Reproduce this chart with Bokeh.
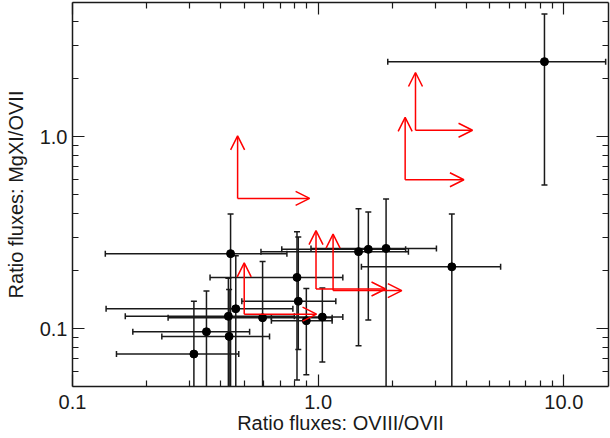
import math
from bokeh.plotting import figure
from bokeh.models import (Range1d, LogAxis, FixedTicker, CustomJSTickFormatter,
                          Arrow, OpenHead, ColumnDataSource)
from bokeh.embed import file_html
from bokeh.resources import INLINE

# ---- data: measured ratios with error ranges ----
ratio_o8_o7 = [0.44, 0.462, 0.431, 0.351, 0.434, 0.312, 0.82, 0.83, 0.594, 0.895,
               1.04, 1.46, 1.60, 1.89, 3.50, 8.34]
ratio_mg11_o7 = [0.246, 0.127, 0.116, 0.0964, 0.0912, 0.0738, 0.185, 0.139, 0.114, 0.110,
                 0.115, 0.252, 0.259, 0.262, 0.21, 2.46]
o8_low = [0.136, 0.137, 0.164, 0.176, 0.231, 0.151, 0.363, 0.489, 0.245, 0.645,
          0.645, 0.585, 0.711, 0.935, 1.50, 1.92]
o8_high = [0.746, 0.789, 0.80, 0.526, 0.634, 0.475, 1.26, 1.18, 1.14, 1.14,
           1.26, 2.33, 2.27, 3.03, 5.53, 14.8]
mg_low = [0.03, 0.03, 0.03, 0.03, 0.03, 0.03, 0.054, 0.078, 0.03, 0.0575,
          0.067, 0.0815, 0.111, 0.03, 0.03, 0.56]
mg_high = [0.396, 0.24, 0.183, 0.157, 0.160, 0.139, 0.32, 0.30, 0.224, 0.162,
           0.163, 0.422, 0.405, 0.474, 0.396, 4.36]

# lower limits (both ratios): corner values and arrow end values
limit_o8 = [0.47, 2.49, 2.26, 0.98, 1.15, 0.50]
limit_mg = [0.477, 1.08, 0.597, 0.161, 0.158, 0.119]
limit_o8_end = [0.923, 4.25, 3.92, 1.88, 2.19, 0.985]
limit_mg_end = [1.01, 2.16, 1.26, 0.324, 0.311, 0.22]

x_major = [0.1, 1.0, 10.0]
x_minor = [0.2, 0.3, 0.4, 0.5, 0.6, 0.7, 0.8, 0.9, 2, 3, 4, 5, 6, 7, 8, 9]
y_major = [0.1, 1.0]
y_minor = [0.06, 0.07, 0.08, 0.09, 0.2, 0.3, 0.4, 0.5, 0.6, 0.7, 0.8, 0.9, 2, 3, 4]

# ---- style constants ----
FONT = "Liberation Sans"
INK = "#1a1a1a"

p = figure(width=610, height=438, x_axis_type="log", y_axis_type="log",
           x_range=Range1d(0.1, 15.2), y_range=Range1d(0.05, 5.0),
           output_backend="svg", toolbar_location=None,
           min_border_left=72, min_border_right=2, min_border_top=2,
           min_border_bottom=52)
p.grid.visible = False
p.outline_line_color = None
p.background_fill_color = "white"

fmt = CustomJSTickFormatter(code="return tick.toFixed(1);")

def style_axis(ax, show_labels):
    ax.major_tick_in = 12
    ax.major_tick_out = 0
    ax.minor_tick_in = 6
    ax.minor_tick_out = 0
    ax.axis_line_width = 1.5
    ax.axis_line_color = INK
    ax.major_tick_line_color = INK
    ax.minor_tick_line_color = INK
    ax.major_tick_line_width = 1.2
    ax.minor_tick_line_width = 1.2
    if show_labels:
        ax.formatter = fmt
        ax.major_label_text_font = FONT
        ax.major_label_text_font_size = "20px"
        ax.major_label_text_color = INK
        ax.axis_label_text_font = FONT
        ax.axis_label_text_font_size = "20px"
        ax.axis_label_text_font_style = "normal"
        ax.axis_label_text_color = INK
    else:
        ax.major_label_text_font_size = "2px"
        ax.major_label_text_alpha = 0
        ax.major_label_standoff = 0

xax = p.xaxis[0]
yax = p.yaxis[0]
xax.ticker = FixedTicker(ticks=x_major, minor_ticks=x_minor)
yax.ticker = FixedTicker(ticks=y_major, minor_ticks=y_minor)
xax.axis_label = "Ratio fluxes: OVIII/OVII"
yax.axis_label = "Ratio fluxes: MgXI/OVII"
style_axis(xax, True)
style_axis(yax, True)
xax.major_label_standoff = 8
xax.axis_label_standoff = 0
yax.major_label_standoff = 5
yax.axis_label_standoff = 10

top = LogAxis(ticker=FixedTicker(ticks=x_major, minor_ticks=x_minor))
right = LogAxis(ticker=FixedTicker(ticks=y_major, minor_ticks=y_minor))
style_axis(top, False)
style_axis(right, False)
p.add_layout(top, "above")
p.add_layout(right, "right")

# ---- error bars ----
src = ColumnDataSource(dict(x=ratio_o8_o7, y=ratio_mg11_o7, xl=o8_low, xh=o8_high,
                            yl=mg_low, yh=mg_high))
p.segment(x0="xl", x1="xh", y0="y", y1="y", source=src, line_color=INK, line_width=1.5)
p.segment(x0="x", x1="x", y0="yl", y1="yh", source=src, line_color=INK, line_width=1.5)
p.scatter(x="xl", y="y", source=src, marker="dash", angle=math.pi / 2, size=6,
          line_color=INK, line_width=1.5)
p.scatter(x="xh", y="y", source=src, marker="dash", angle=math.pi / 2, size=6,
          line_color=INK, line_width=1.5)
p.scatter(x="x", y="yl", source=src, marker="dash", size=6, line_color=INK, line_width=1.5)
p.scatter(x="x", y="yh", source=src, marker="dash", size=6, line_color=INK, line_width=1.5)
p.scatter(x="x", y="y", source=src, size=8, fill_color="black", line_color="black")

# ---- lower-limit arrows ----
up_src = ColumnDataSource(dict(x0=limit_o8, y0=limit_mg, x1=limit_o8, y1=limit_mg_end))
rt_src = ColumnDataSource(dict(x0=limit_o8, y0=limit_mg, x1=limit_o8_end, y1=limit_mg))
for s in (up_src, rt_src):
    p.add_layout(Arrow(x_start="x0", y_start="y0", x_end="x1", y_end="y1", source=s,
                       line_color="red", line_width=1.5,
                       end=OpenHead(size=14, line_color="red", line_width=1.5)))

open("out.html", "w").write(file_html(p, INLINE))
